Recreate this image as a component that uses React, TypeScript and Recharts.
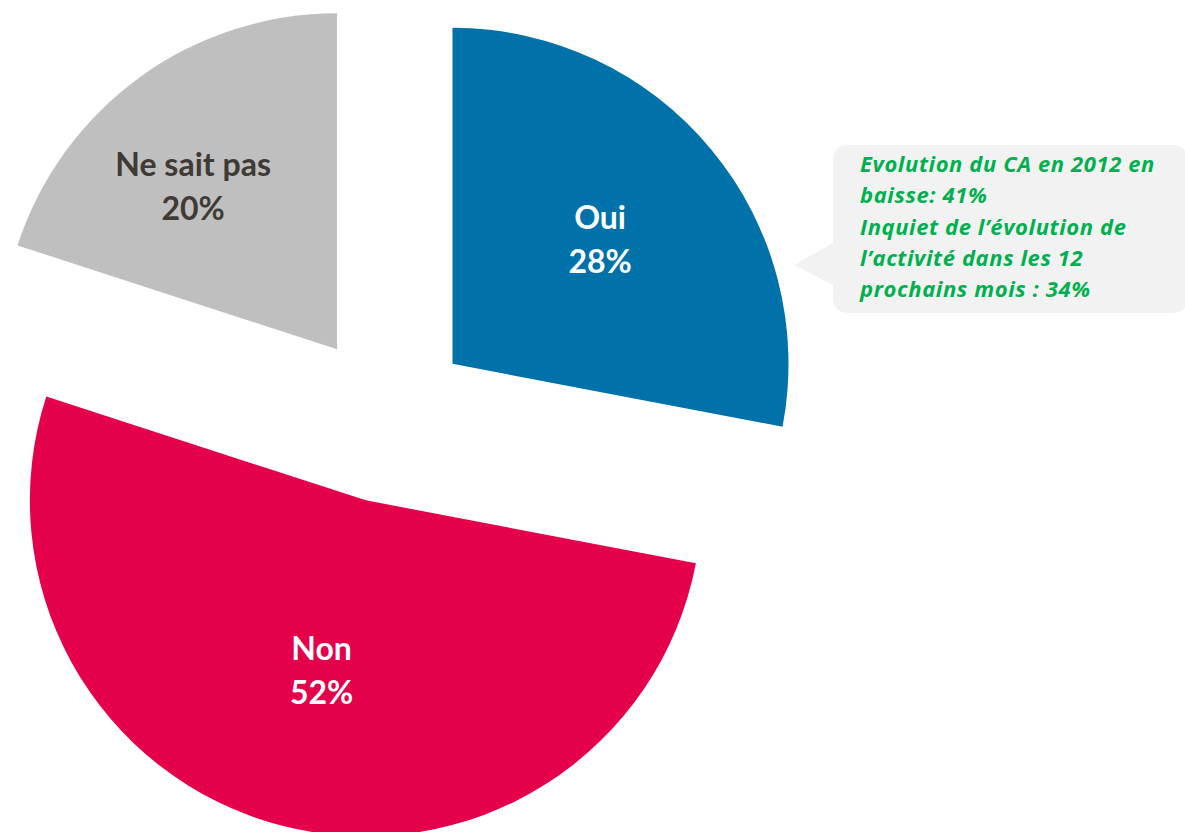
import { PieChart, Pie, Cell } from 'recharts';

const categories = ['Oui', 'Non', 'Ne sait pas'];
const shares = [28, 52, 20];
const sliceColors = ['#0071A9', '#E4004B', '#BFBFBF'];
const labelColors = ['#FFFFFF', '#FFFFFF', '#403A35'];
const labelDepth = [0.57, 0.53, 0.64];
const labelTurn = [0, 0, 6];
const noteLines = [
    'Evolution du CA en 2012 en',
    'baisse: 41%',
    'Inquiet de l\u2019évolution de',
    'l\u2019activité dans les 12',
    'prochains mois : 34%',
];

const data = categories.map((name, i) => ({ name, value: shares[i] }));

const W = 1185;
const H = 832;
const CX = 387;
const CY = 418;
const R = 336;
const EXPLODE = 85;
const RAD = Math.PI / 180;

// mid angle of each slice, clockwise from 12 o'clock
const total = shares.reduce((a, b) => a + b, 0);
const midAngles = shares.map((v, i) => {
    const before = shares.slice(0, i).reduce((a, b) => a + b, 0);
    return ((before + v / 2) / total) * 360;
});

const renderLabel = (slice: number) => (props: any) => {
    if (props.index !== slice) return null;
    const r = props.outerRadius * labelDepth[slice];
    const a = -(props.midAngle + labelTurn[slice]) * RAD;
    const x = props.cx + r * Math.cos(a);
    const y = props.cy + r * Math.sin(a);
    return (
        <text
            x={x}
            y={y}
            textAnchor="middle"
            fill={labelColors[slice]}
            style={{ fontFamily: 'Lato, sans-serif', fontWeight: 700, fontSize: 32 }}
        >
            <tspan x={x} dy={-13}>{props.name}</tspan>
            <tspan x={x} dy={44}>{`${Math.round(props.percent * 100)}%`}</tspan>
        </text>
    );
};

const App = () => {
    return (
        <div style={{ position: 'absolute', left: 0, top: 0, width: W, height: H, background: '#fff' }}>
            <PieChart width={W} height={H} margin={{ top: 0, right: 0, bottom: 0, left: 0 }}>
                {categories.map((_, slice) => (
                    <Pie
                        key={slice}
                        data={data}
                        dataKey="value"
                        nameKey="name"
                        cx={CX + EXPLODE * Math.sin(midAngles[slice] * RAD)}
                        cy={CY - EXPLODE * Math.cos(midAngles[slice] * RAD)}
                        outerRadius={R}
                        startAngle={90}
                        endAngle={-270}
                        stroke="none"
                        labelLine={false}
                        label={renderLabel(slice)}
                        isAnimationActive={false}
                    >
                        {data.map((_, i) => (
                            <Cell key={i} fill={i === slice ? sliceColors[i] : 'transparent'} />
                        ))}
                    </Pie>
                ))}
            </PieChart>
            <svg width={W} height={H} style={{ position: 'absolute', left: 0, top: 0, pointerEvents: 'none' }}>
                <path
                    d="M849,145 H1172 Q1188,145 1188,161 V297 Q1188,313 1172,313 H849 Q833,313 833,297 V285 L794,265 L833,243 V161 Q833,145 849,145 Z"
                    fill="#F2F2F2"
                />
                <text
                    fill="#00B050"
                    style={{ fontFamily: '"Open Sans", sans-serif', fontWeight: 700, fontStyle: 'italic', fontSize: 22, letterSpacing: 0.6 }}
                >
                    {noteLines.map((line, i) => (
                        <tspan key={i} x={860} y={172 + i * 31.3}>{line}</tspan>
                    ))}
                </text>
            </svg>
        </div>
    );
};

export default App;
